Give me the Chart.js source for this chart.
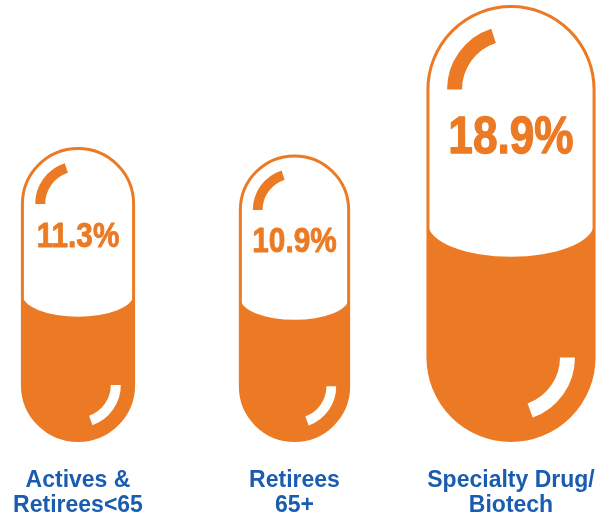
<!DOCTYPE html>
<html>
<head>
<meta charset="utf-8">
<script src="https://cdn.jsdelivr.net/npm/chart.js@4"></script>
<style>
  html, body { margin: 0; padding: 0; background: #fff; overflow: hidden; }
  canvas { display: block; }
</style>
</head>
<body>
<canvas id="pills" width="610" height="519"></canvas>
<script>
// cost trend by group
var groups = [['Actives &', 'Retirees<65'], ['Retirees', '65+'], ['Specialty Drug/', 'Biotech']];
var trendPct = [11.3, 10.9, 18.9];

var ORANGE = '#ec7a24';
var BLUE = '#1a5cb0';
var PILL_BASE = -4.5;

function pillPath(ctx, cx, top, w, h) {
    var r = w / 2;
    ctx.beginPath();
    ctx.moveTo(cx - r, top + r);
    ctx.arc(cx, top + r, r, Math.PI, 0);
    ctx.lineTo(cx + r, top + h - r);
    ctx.arc(cx, top + h - r, r, 0, Math.PI);
    ctx.closePath();
}

// draws a capsule on top of every (invisible) bar
var pillPlugin = {
    id: 'pills',
    afterDatasetsDraw: function (chart) {
        var ctx = chart.ctx;
        var meta = chart.getDatasetMeta(0);
        meta.data.forEach(function (bar, i) {
            var lw = 3;
            var hOut = bar.base - bar.y;
            var wOut = hOut * 0.387;
            var cx = bar.x;
            var top = bar.y + lw / 2;
            var h = hOut - lw;
            var w = wOut - lw;
            var r = w / 2;
            var mid = top + h * 0.5;

            ctx.save();
            pillPath(ctx, cx, top, w, h);
            ctx.fillStyle = '#fff';
            ctx.fill();
            ctx.clip();
            ctx.beginPath();
            ctx.moveTo(cx - r, mid);
            ctx.ellipse(cx, mid, r, w * 0.2, 0, Math.PI, 0, true);
            ctx.lineTo(cx + r + 5, mid);
            ctx.lineTo(cx + r + 5, top + h + 5);
            ctx.lineTo(cx - r - 5, top + h + 5);
            ctx.lineTo(cx - r - 5, mid);
            ctx.closePath();
            ctx.fillStyle = ORANGE;
            ctx.fill();
            ctx.restore();

            ctx.save();
            pillPath(ctx, cx, top, w, h);
            ctx.strokeStyle = ORANGE;
            ctx.lineWidth = lw;
            ctx.stroke();

            // shine marks
            var t = r * 0.18;
            var R = r * 0.77 - t / 2;
            ctx.lineCap = 'butt';
            ctx.lineWidth = t;
            ctx.beginPath();
            ctx.arc(cx, top + r, R, Math.PI, Math.PI * 1.4);
            ctx.strokeStyle = ORANGE;
            ctx.stroke();
            ctx.beginPath();
            ctx.arc(cx, top + h - r, R, 0, Math.PI * 0.39);
            ctx.strokeStyle = '#fff';
            ctx.stroke();

            // value label, a touch heavier than plain bold
            var size = Math.round(wOut * 0.31);
            var txt = trendPct[i].toFixed(1) + '%';
            ctx.translate(cx, bar.y + hOut * 0.305);
            ctx.scale(0.85, 1);
            ctx.font = 'bold ' + size + 'px "Liberation Sans", Arial, sans-serif';
            ctx.fillStyle = ORANGE;
            ctx.strokeStyle = ORANGE;
            ctx.lineWidth = size / 40;
            ctx.lineJoin = 'round';
            ctx.textAlign = 'center';
            ctx.textBaseline = 'middle';
            ctx.fillText(txt, 0, 0);
            ctx.strokeText(txt, 0, 0);
            ctx.restore();
        });
    }
};

var chart = new Chart(document.getElementById('pills'), {
    type: 'bar',
    data: {
        labels: groups,
        datasets: [{
            data: trendPct,
            base: PILL_BASE,
            backgroundColor: 'rgba(0,0,0,0)',
            borderWidth: 0
        }]
    },
    options: {
        responsive: false,
        animation: false,
        events: [],
        layout: { padding: { left: 78, right: 99, top: 5, bottom: 1 } },
        plugins: { legend: { display: false }, tooltip: { enabled: false } },
        scales: {
            x: {
                offset: false,
                grid: { display: false, drawTicks: false },
                border: { display: false },
                ticks: {
                    color: BLUE,
                    padding: 26,
                    maxRotation: 0,
                    autoSkip: false,
                    font: { family: '"Liberation Sans", Arial, sans-serif', size: 23, weight: 'bold', lineHeight: 1.09 }
                },
                afterFit: function (scale) {
                    scale.paddingLeft = 0;
                    scale.paddingRight = 0;
                    scale.paddingTop = 0;
                    scale.paddingBottom = 0;
                    scale.height = 76;
                }
            },
            y: {
                display: false,
                min: PILL_BASE,
                max: 18.9
            }
        }
    },
    plugins: [pillPlugin]
});
</script>
</body>
</html>
